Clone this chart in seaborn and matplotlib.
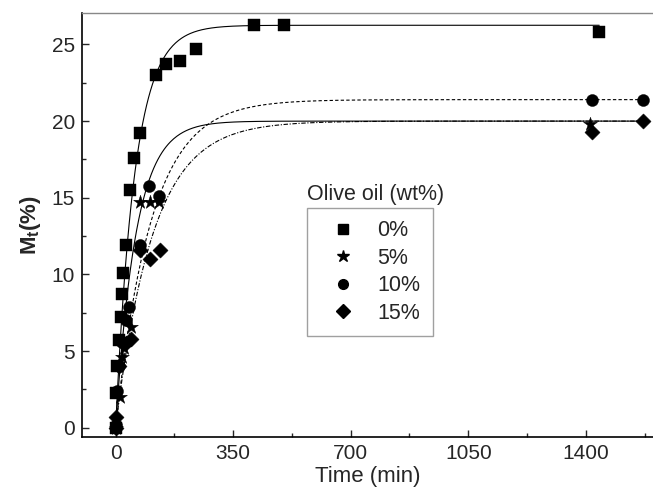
import numpy as np
import pandas as pd
import matplotlib
matplotlib.use('Agg')
import matplotlib.pyplot as plt
import seaborn as sns
from matplotlib.lines import Line2D
from matplotlib.ticker import MultipleLocator

# data: time (min) and Mt (%)
groups = ['0%', '5%', '10%', '15%']

time_0 = [0, 2, 5, 10, 15, 20, 23, 30, 42, 56, 72, 121, 150, 191, 240, 412, 502, 1440]
mt_0 = [0.0, 2.3, 4.0, 5.7, 7.2, 8.7, 10.1, 11.9, 15.5, 17.6, 19.2, 23.0, 23.7, 23.9, 24.7, 26.3, 26.3, 25.8]

time_5 = [0, 12, 18, 25, 45, 74, 101, 130, 1412]
mt_5 = [0.0, 2.0, 4.6, 5.2, 6.6, 14.7, 14.7, 14.7, 19.8]

time_10 = [0, 5, 10, 20, 30, 40, 72, 100, 130, 1418, 1569]
mt_10 = [0.2, 2.4, 4.0, 5.6, 7.0, 7.9, 11.9, 15.8, 15.1, 21.4, 21.4]

time_15 = [0, 2, 10, 30, 47, 72, 102, 131, 1418, 1569]
mt_15 = [0.0, 0.7, 4.0, 5.5, 5.8, 11.6, 11.0, 11.6, 19.3, 20.0]

# first-order fit parameters: Mt = Minf * (1 - exp(-k t))
fit_minf = [26.25, 20.0, 21.4, 20.0]
fit_k = [0.0175, 0.0165, 0.0094, 0.009]
fit_end = [1440, 1569, 1569, 1569]

rows = []
for g, t, m in zip(groups, [time_0, time_5, time_10, time_15], [mt_0, mt_5, mt_10, mt_15]):
    for ti, mi in zip(t, m):
        rows.append({'Time': ti, 'Mt': mi, 'Olive oil': g})
df = pd.DataFrame(rows)

sns.set_style('ticks')
plt.rcParams['font.family'] = ['Liberation Sans', 'DejaVu Sans']
plt.rcParams['mathtext.fontset'] = 'custom'
plt.rcParams['mathtext.rm'] = 'Liberation Sans'
plt.rcParams['mathtext.bf'] = 'Liberation Sans:bold'

fig = plt.figure(figsize=(6.53, 4.93), dpi=100)
ax = fig.add_axes([82 / 653, 56 / 493, 571 / 653, 424 / 493])

line_styles = ['-', '-', (0, (3, 2)), (0, (4, 1.5, 1, 1.5))]
for mi, ki, te, ls in zip(fit_minf, fit_k, fit_end, line_styles):
    tt = np.linspace(0, te, 500)
    ax.plot(tt, mi * (1 - np.exp(-ki * tt)), color='black', lw=0.8, ls=ls, zorder=2)

markers = {'0%': 's', '5%': '*', '10%': 'o', '15%': 'D'}
sizes = {'0%': 70, '5%': 110, '10%': 75, '15%': 60}
for g in groups:
    sub = df[df['Olive oil'] == g]
    sns.scatterplot(data=sub, x='Time', y='Mt', marker=markers[g], s=sizes[g],
                    color='black', edgecolor='black', linewidth=0.3, ax=ax,
                    zorder=3, legend=False)

ax.set_xlim(-100, 1600)
ax.set_ylim(-0.6, 27.05)
ax.xaxis.set_major_locator(MultipleLocator(350))
ax.xaxis.set_minor_locator(MultipleLocator(175))
ax.yaxis.set_major_locator(MultipleLocator(5))
ax.yaxis.set_minor_locator(MultipleLocator(2.5))
ax.tick_params(which='major', direction='in', length=5, width=1, labelsize=15, pad=5)
ax.tick_params(which='minor', direction='in', length=3, width=1)
ax.tick_params(top=False, right=False)

for side in ['left', 'bottom']:
    ax.spines[side].set_color('black')
    ax.spines[side].set_linewidth(1.2)
ax.spines['top'].set_color('#888888')
ax.spines['top'].set_linewidth(1.0)
ax.spines['right'].set_visible(False)

ax.set_xlabel('Time (min)', fontsize=16, labelpad=2)
ax.set_ylabel(r'$\mathbf{M_t}$(%)', fontsize=16, labelpad=6, fontweight='bold')

handles = [Line2D([], [], ls='none', marker=markers[g], color='black',
                  markersize=9 if g == '5%' else 7) for g in groups]
leg = ax.legend(handles, groups, loc='upper left', bbox_to_anchor=(0.394, 0.540),
                fontsize=15.5, frameon=True, fancybox=False, borderaxespad=0,
                borderpad=0.57, labelspacing=0.3, handlelength=2.2, handletextpad=0.5)
leg.get_frame().set_edgecolor('#888888')
leg.get_frame().set_linewidth(1.0)
ax.text(0.394, 0.548, 'Olive oil (wt%)', transform=ax.transAxes, fontsize=15.5,
        ha='left', va='bottom')

fig.savefig('out.png', dpi=100)
